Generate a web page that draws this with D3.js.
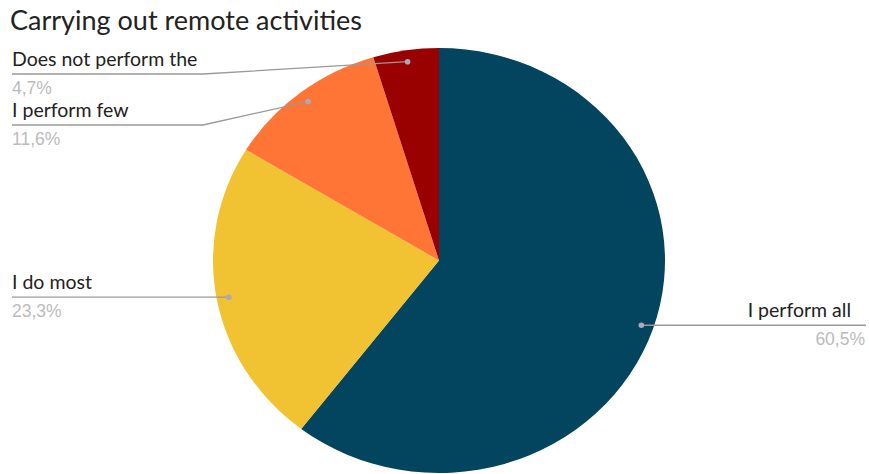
<!DOCTYPE html>
<html>
<head>
<meta charset="utf-8">
<script src="https://cdn.jsdelivr.net/npm/d3@7"></script>
<style>
  html, body { margin: 0; padding: 0; background: #fff; }
  svg { display: block; }
</style>
</head>
<body>
<script>
// Remote-activity survey shares, clockwise from twelve o'clock
const categories = ["I perform all", "I do most", "I perform few", "Does not perform the"];
const values = [60.5, 23.3, 11.6, 4.7];
const valueLabels = ["60,5%", "23,3%", "11,6%", "4,7%"];
const colors = ["#03445e", "#f1c232", "#ff7535", "#990000"];

const W = 869, H = 474;
const cx = 439, cy = 260.5, R = 212.5, sx = 226 / 212.5;

const svg = d3.select("body").append("svg")
  .attr("width", W).attr("height", H)
  .style("font-family", "Lato, 'Open Sans', sans-serif");

svg.append("text")
  .attr("x", 10).attr("y", 30)
  .attr("font-size", 27)
  .attr("fill", "#222")
  .text("Carrying out remote activities");

const pie = d3.pie().sort(null).value(d => d)(values);
const arc = d3.arc().innerRadius(0).outerRadius(R);
const dotArc = d3.arc().innerRadius(201).outerRadius(201);

const g = svg.append("g")
  .attr("transform", `translate(${cx},${cy}) scale(${sx},1)`);

g.selectAll("path.slice").data(pie).join("path")
  .attr("class", "slice")
  .attr("d", arc)
  .attr("fill", (d, i) => colors[i]);

// anchor points for leader lines, in page coordinates
const anchors = pie.map(d => {
  const [x, y] = dotArc.centroid(d);
  return [cx + x * sx, cy + y];
});

// label placement: side of the chart and the y of each horizontal leader
const labelLayout = [
  { side: "right", lineY: null },
  { side: "left", lineY: null },
  { side: "left", lineY: 125 },
  { side: "left", lineY: 74 }
];

const labels = svg.append("g");
pie.forEach((d, i) => {
  const [ax, ay] = anchors[i];
  const L = labelLayout[i];
  const ly = L.lineY == null ? ay : L.lineY;
  let pts;
  if (L.side === "right") {
    pts = [[ax, ay], [866, ly]];
  } else if (L.lineY == null) {
    pts = [[ax, ay], [12, ly]];
  } else {
    pts = [[ax, ay], [203, ly], [12, ly]];
  }
  labels.append("path")
    .attr("d", d3.line()(pts))
    .attr("fill", "none")
    .attr("stroke", "#999")
    .attr("stroke-width", 1.3);
  labels.append("circle")
    .attr("cx", ax).attr("cy", ay).attr("r", 2.8)
    .attr("fill", "#aab");
  const tx = L.side === "right" ? 851 : 12;
  const anchor = L.side === "right" ? "end" : "start";
  labels.append("text")
    .attr("x", tx).attr("y", ly - 8)
    .attr("text-anchor", anchor)
    .attr("font-size", 19.5)
    .attr("fill", "#222")
    .text(categories[i]);
  labels.append("text")
    .attr("x", L.side === "right" ? 865 : 12).attr("y", ly + 20)
    .attr("text-anchor", anchor)
    .attr("font-size", 17.5)
    .attr("fill", "#bbb")
    .style("font-family", "'Liberation Sans', Arial, sans-serif")
    .text(valueLabels[i]);
});
</script>
</body>
</html>
